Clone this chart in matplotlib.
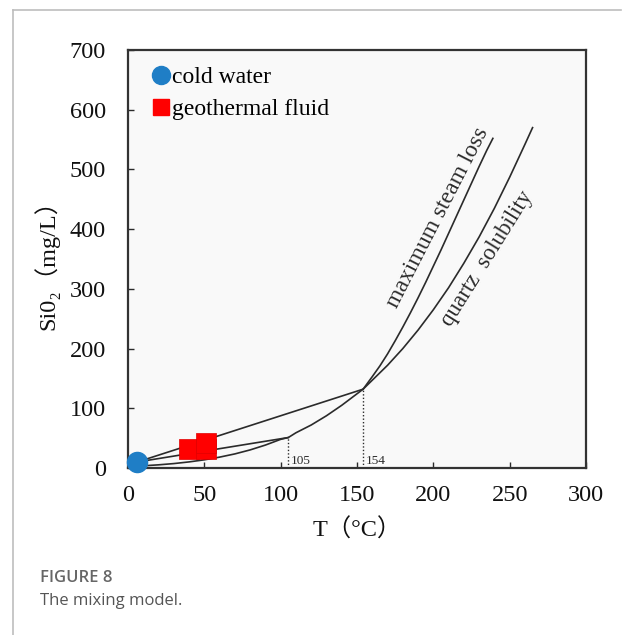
import matplotlib
matplotlib.use("Agg")
import matplotlib.pyplot as plt
from matplotlib.lines import Line2D

# Quartz solubility curve (T in degC, SiO2 in mg/L)
quartz_T = [0, 10, 20, 30, 40, 50, 60, 70, 80, 90, 100, 105, 110, 120, 130, 140,
            154, 160, 170, 180, 190, 200, 210, 220, 230, 240, 250, 260, 265]
quartz_S = [2.5, 3.7, 5.3, 7.4, 10.2, 13.7, 18.2, 23.6, 30.3, 38.4, 48, 51, 59, 72,
            87.5, 105, 132, 147, 172, 200, 231, 265, 302, 343, 387, 435, 487, 542, 570]

# Maximum steam loss curve
steam_T = [154, 160, 165, 170, 175, 180, 185, 190, 195, 200, 205, 210, 215, 220,
           225, 230, 235, 239]
steam_S = [132, 153, 171, 191, 213, 236, 260, 285, 311, 338, 365, 393, 421, 449,
           477, 505, 532, 552]

# Samples
cold_T = [6]
cold_S = [10]
geo_T = [40, 51, 51]
geo_S = [31, 32, 42]

# Mixing line end points on the solubility curves
mix_T = [105, 154]
mix_S = [51, 132]

x_ticks = [0, 50, 100, 150, 200, 250, 300]
y_ticks = [0, 100, 200, 300, 400, 500, 600, 700]

serif = ["Liberation Serif", "Noto Sans CJK SC"]
ink = "#2b2b2b"

fig = plt.figure(figsize=(6.22, 6.35), dpi=100)
fig.patch.set_facecolor("white")
ax = fig.add_axes([128 / 622, 1 - 468 / 635, 458 / 622, 418 / 635])
ax.set_facecolor("#f9f9f9")

ax.plot(quartz_T, quartz_S, color=ink, lw=1.2, zorder=2)
ax.plot(steam_T, steam_S, color=ink, lw=1.2, zorder=2)
for t, s in zip(mix_T, mix_S):
    ax.plot([cold_T[0], t], [cold_S[0], s], color=ink, lw=1.2, zorder=2)
    ax.plot([t, t], [0, s], color=ink, lw=1.0, ls=(0, (1, 1.5)), zorder=2)
    ax.text(t + 1.5, 1, f"{t}", fontsize=9.5, family=serif, color=ink,
            ha="left", va="bottom")

ax.scatter(geo_T, geo_S, marker="s", s=200, color="#ff0000", edgecolors="#e00000",
           linewidths=0.5, zorder=4, clip_on=False)
ax.scatter(cold_T, cold_S, marker="o", s=210, color="#1f7ec6", zorder=5, clip_on=False)

ax.text(203, 419, "maximum steam loss", rotation=62.8, rotation_mode="anchor",
        ha="center", va="center", fontsize=17, family=serif, color=ink)
ax.text(235, 350, "quartz  solubility", rotation=58, rotation_mode="anchor",
        ha="center", va="center", fontsize=16.5, family=serif, color=ink)

ax.set_xlim(0, 300)
ax.set_ylim(0, 700)
ax.set_xticks(x_ticks)
ax.set_yticks(y_ticks)
ax.tick_params(direction="in", length=4.5, width=1, colors=ink, labelsize=17.5)
ax.tick_params(axis="y", pad=16)
ax.tick_params(axis="x", pad=12)
for lab in ax.get_xticklabels() + ax.get_yticklabels():
    lab.set_family(serif)
    lab.set_color("#111111")
for side in ["left", "bottom", "top", "right"]:
    ax.spines[side].set_linewidth(1.6)
    ax.spines[side].set_color("#333333")

ax.set_xlabel("T（°C）", fontsize=17.5, family=serif, color="#111111", labelpad=9)
ax.set_ylabel("Si0₂（mg/L）", fontsize=17.5, family=serif, color="#111111", labelpad=7)

handles = [
    Line2D([], [], marker="o", ls="none", color="#1f7ec6", markersize=13),
    Line2D([], [], marker="s", ls="none", color="#ff0000", markersize=12),
]
ax.legend(handles, ["cold water", "geothermal fluid"], loc="upper left",
          bbox_to_anchor=(0.018, 1.0), frameon=False, handlelength=0.7,
          handletextpad=0.1, labelspacing=0.45, borderaxespad=0.3,
          prop={"family": serif, "size": 17})

# Page frame
fig.add_artist(Line2D([13 / 622, 13 / 622], [0, 1 - 10 / 635], color="#bdbdbd", lw=1.2))
fig.add_artist(Line2D([13 / 622, 621 / 622], [1 - 10 / 635, 1 - 10 / 635], color="#bdbdbd", lw=1.2))

fig.text(40 / 622, 1 - 578 / 635, "FIGURE 8", fontsize=12, family="Open Sans",
         weight="semibold", color="#666666", va="center")
fig.text(40 / 622, 1 - 601 / 635, "The mixing model.", fontsize=12, family="Open Sans",
         color="#555555", va="center")

fig.savefig("out.png", dpi=100)
